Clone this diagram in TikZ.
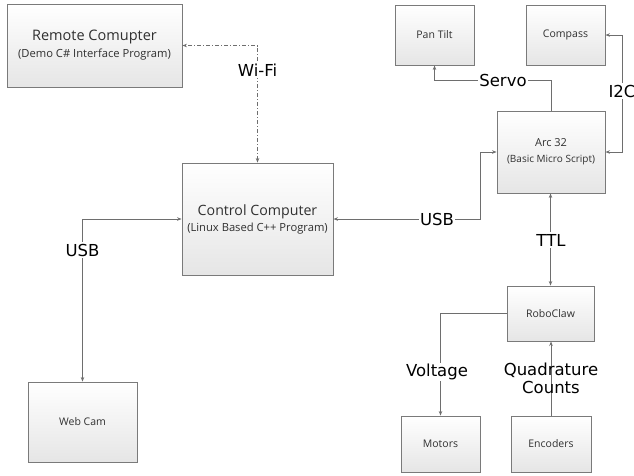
\documentclass[tikz,border=0pt]{standalone}
\usepackage{fontspec}
\setmainfont{Open Sans}
\newfontfamily\labfont{DejaVu Sans}
\usetikzlibrary{arrows.meta}
\definecolor{edgec}{HTML}{6E6E6E}
\definecolor{boxc}{HTML}{7A7A7A}
\definecolor{txtc}{HTML}{303030}
\tikzset{
  blk/.style={draw=boxc, line width=0.9pt, top color=white, bottom color=black!10, text=txtc, align=center, inner sep=0pt},
  conn/.style={draw=edgec, line width=0.9pt, arrows={-Stealth[length=4.5pt,width=3.5pt]}},
  conn2/.style={draw=edgec, line width=0.9pt, arrows={Stealth[length=4.5pt,width=3.5pt]-Stealth[length=4.5pt,width=3.5pt]}},
  lab/.style={fill=white, inner sep=1.5pt, font=\labfont\fontsize{16.5}{18}\selectfont, text=black, align=center},
}
\begin{document}
\begin{tikzpicture}[x=1pt,y=-1pt]
\useasboundingbox (0,0) rectangle (634,475);
\node[blk, minimum width=175pt, minimum height=83pt] (remote) at (94.5,45.5)
  {{\fontsize{14.5}{18}\selectfont Remote Comupter}\\[4pt]{\fontsize{11.2}{14}\selectfont (Demo C\# Interface Program)}};
\node[blk, minimum width=151pt, minimum height=112pt] (control) at (257.5,219)
  {{\fontsize{14.2}{18}\selectfont Control Computer}\\[4pt]{\fontsize{11.2}{14}\selectfont (Linux Based C++ Program)}};
\node[blk, minimum width=108pt, minimum height=82pt] (arc) at (551,152)
  {{\fontsize{11}{14}\selectfont Arc 32}\\[4pt]{\fontsize{10}{13}\selectfont (Basic Micro Script)}};
\node[blk, minimum width=79pt, minimum height=60pt, font=\fontsize{10.5}{12}\selectfont] (pan) at (434.5,35) {Pan Tilt};
\node[blk, minimum width=79pt, minimum height=60pt, font=\fontsize{10.5}{12}\selectfont] (compass) at (565.5,35) {Compass};
\node[blk, minimum width=87pt, minimum height=55pt, font=\fontsize{10.5}{12}\selectfont] (robo) at (550.5,313.5) {RoboClaw};
\node[blk, minimum width=79pt, minimum height=56pt, font=\fontsize{10.5}{12}\selectfont] (motors) at (440.5,444) {Motors};
\node[blk, minimum width=80pt, minimum height=56pt, font=\fontsize{10.5}{12}\selectfont] (enc) at (551,444) {Encoders};
\node[blk, minimum width=109pt, minimum height=80pt, font=\fontsize{10.5}{12}\selectfont] (webcam) at (82.5,422) {Web Cam};

\coordinate (u1) at (480,219);
\coordinate (sv) at (551,80);
\coordinate (i2) at (622,152);

\draw[conn2, dash pattern=on 4pt off 2pt on 1pt off 2pt] (control.north) |- (remote.east);
\draw[conn2] (control.east) -- (u1) |- (arc.west);
\draw[conn] (arc.north) -- (sv) -| (pan.south);
\draw[conn2] (arc.east) -- (i2) |- (compass.east);
\draw[conn2] (robo.north) -- (robo.north |- arc.south);
\draw[conn] (robo.west) -| (motors.north);
\draw[conn] (enc.north) -- (enc.north |- robo.south);
\draw[conn2] (control.west) -| (webcam.north);

\node[lab] (lwifi) at (257.5,70) {Wi-Fi};
\node[lab] (lusb1) at (437,219) {USB};
\node[lab] (lservo) at (503,80) {Servo};
\node[lab] (li2c) at (622,91) {I2C};
\node[lab] (lttl) at (551,240) {TTL};
\node[lab] (lvolt) at (437,372) {Voltage};
\node[lab, fill=none] (lquad) at (551,378) {Quadrature\\Counts};
\node[lab] (lusb2) at (82.5,250) {USB};
\end{tikzpicture}
\end{document}
